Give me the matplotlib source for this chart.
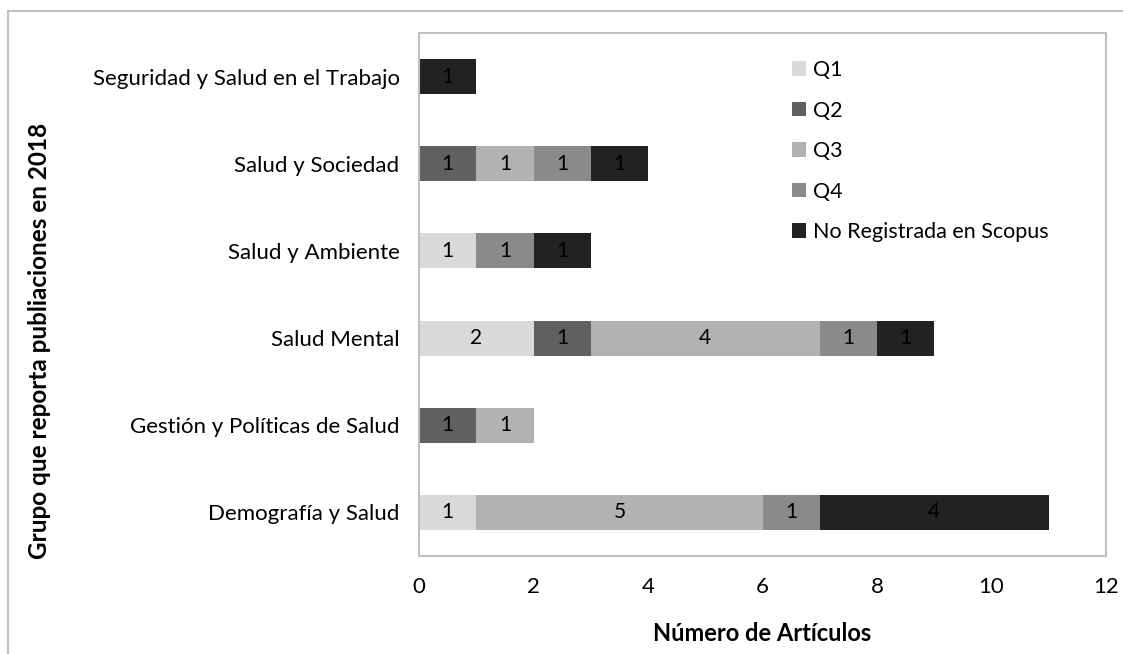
import numpy as np
import matplotlib.pyplot as plt
from matplotlib.lines import Line2D

plt.rcParams['font.family'] = ['Lato', 'DejaVu Sans']

# --- datos (de abajo hacia arriba) ---
grupos = ['Demografía y Salud', 'Gestión y Políticas de Salud', 'Salud Mental',
          'Salud y Ambiente', 'Salud y Sociedad', 'Seguridad y Salud en el Trabajo']
q1 = [1, 0, 2, 1, 0, 0]
q2 = [0, 1, 1, 0, 1, 0]
q3 = [5, 1, 4, 0, 1, 0]
q4 = [1, 0, 1, 1, 1, 0]
no_reg = [4, 0, 1, 1, 1, 1]

series = [('Q1', q1, '#d9d9d9'),
          ('Q2', q2, '#606060'),
          ('Q3', q3, '#b2b2b2'),
          ('Q4', q4, '#8a8a8a'),
          ('No Registrada en Scopus', no_reg, '#222222')]

W, H = 1123, 654
fig = plt.figure(figsize=(W / 100, H / 100), dpi=100)
ax = fig.add_axes([419 / W, 1 - 556 / H, (1106 - 419) / W, (556 - 33) / H])

y = np.arange(len(grupos))
left = np.zeros(len(grupos))
for nombre, vals, color in series:
    vals = np.array(vals)
    bars = ax.barh(y, vals, left=left, height=0.4, color=color, label=nombre)
    etiquetas = [str(v) if v > 0 else '' for v in vals]
    ax.bar_label(bars, labels=etiquetas, label_type='center', fontsize=15, color='black')
    left += vals

ax.set_xlim(0, 12)
ax.set_ylim(-0.5, len(grupos) - 0.5)
ax.set_xticks(range(0, 13, 2))
ax.set_yticks(y)
ax.set_yticklabels(grupos)
ax.tick_params(axis='both', length=0, labelsize=16)
ax.tick_params(axis='x', pad=15)
ax.tick_params(axis='y', pad=14)
for s in ax.spines.values():
    s.set_color('#c0c0c0')
    s.set_linewidth(1.5)

ax.set_xlabel('Número de Artículos', fontsize=17, fontweight='bold', labelpad=18)
fig.text(40 / W, 1 - 341 / H, 'Grupo que reporta publiaciones en 2018', rotation=90,
         ha='center', va='center', fontsize=17.5, fontweight='bold')

ax.legend(loc='upper left', bbox_to_anchor=(0.515, 0.985), frameon=False, fontsize=15.5,
          handlelength=0.65, handleheight=0.65, handletextpad=0.3, labelspacing=0.95)

# marco exterior del gráfico
fig.add_artist(Line2D([8 / W, 8 / W], [0, 1 - 11 / H], color='#c0c0c0', lw=1.5))
fig.add_artist(Line2D([8 / W, 1], [1 - 11 / H, 1 - 11 / H], color='#c0c0c0', lw=1.5))

plt.savefig('out.png', dpi=100)
